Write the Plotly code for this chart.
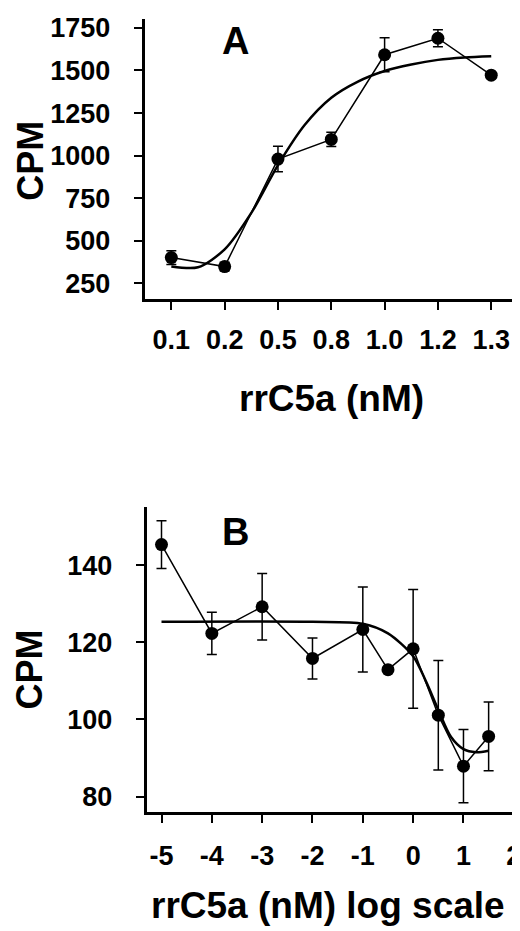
import plotly.graph_objects as go

# panel A - CPM vs rrC5a concentration
conc_labels = ["0.1", "0.2", "0.5", "0.8", "1.0", "1.2", "1.3"]
conc_pos = [0, 1, 2, 3, 4, 5, 6]
cpm_a = [402, 349, 980, 1095, 1592, 1689, 1472]
err_a = [40, 25, 75, 42, 100, 50, 15]
# fitted curve
fit_a_x = [0, 0.5, 1, 1.5, 2, 2.5, 3, 3.5, 4, 4.5, 5, 5.5, 6]
fit_a_y = [350, 345, 450, 664, 945, 1180, 1340, 1435, 1497, 1535, 1562, 1576, 1583]
ticks_a = [250, 500, 750, 1000, 1250, 1500, 1750]

# panel B - CPM vs log concentration
logc_b = [-5, -4, -3, -2, -1, -0.5, 0, 0.5, 1, 1.5]
cpm_b = [145.3, 122.3, 129.2, 115.8, 123.3, 112.9, 118.3, 101.1, 87.9, 95.6]
err_b = [6.2, 5.5, 8.6, 5.3, 11.0, 0, 15.4, 14.2, 9.5, 8.9]
fit_b_x = [-5, -2, -1, -0.5, 0, 0.25, 0.5, 0.75, 1, 1.25, 1.5]
fit_b_y = [125.3, 125.3, 124.8, 122.3, 116.4, 110.0, 102.5, 95.5, 92.3, 91.5, 91.9]
ticks_bx = [-5, -4, -3, -2, -1, 0, 1, 2]
ticks_bx_text = ["-5", "-4", "-3", "-2", "-1", "0", "1", "2"]
ticks_by = [80, 100, 120, 140]

W, H = 520, 931
FONT = "Liberation Sans"

fig = go.Figure()

fig.add_trace(go.Scatter(x=fit_a_x, y=fit_a_y, mode="lines",
                         line=dict(color="black", width=2.5, shape="spline", smoothing=0.8),
                         xaxis="x", yaxis="y", showlegend=False))
fig.add_trace(go.Scatter(x=conc_pos, y=cpm_a, mode="lines+markers",
                         line=dict(color="black", width=1.5),
                         marker=dict(color="black", size=13),
                         error_y=dict(type="data", array=err_a, color="black", thickness=1.5, width=5),
                         xaxis="x", yaxis="y", showlegend=False))

fig.add_trace(go.Scatter(x=fit_b_x, y=fit_b_y, mode="lines",
                         line=dict(color="black", width=2.5, shape="spline", smoothing=0.8),
                         xaxis="x2", yaxis="y2", showlegend=False))
fig.add_trace(go.Scatter(x=logc_b, y=cpm_b, mode="lines+markers",
                         line=dict(color="black", width=1.5),
                         marker=dict(color="black", size=13),
                         error_y=dict(type="data", array=err_b, color="black", thickness=1.5, width=5),
                         xaxis="x2", yaxis="y2", showlegend=False))


def axis(**kw):
    d = dict(showline=True, linewidth=3, linecolor="black", ticks="outside",
             ticklen=8, tickwidth=2, tickcolor="black", showgrid=False,
             zeroline=False, ticklabeloverflow="allow",
             tickfont=dict(family=FONT, size=27, color="black", weight=700))
    d.update(kw)
    return d


fig.update_layout(
    width=W, height=H,
    margin=dict(l=0, r=0, t=0, b=0),
    paper_bgcolor="white", plot_bgcolor="white",
    xaxis=axis(domain=[138 / W, 517 / W], range=[-0.5, 6.54],
               tickvals=conc_pos, ticktext=conc_labels, anchor="y", ticklabelstandoff=6),
    yaxis=axis(domain=[1 - 287 / H, 1 - 5 / H], range=[158, 1802],
               tickvals=ticks_a, anchor="x", ticklabelstandoff=18),
    xaxis2=axis(domain=[140 / W, 513 / W], range=[-5.295, 2.045],
                tickvals=ticks_bx, ticktext=ticks_bx_text, anchor="y2", ticklabelstandoff=10),
    yaxis2=axis(domain=[1 - 803 / H, 1 - 496 / H], range=[76.06, 155.1],
                tickvals=ticks_by, anchor="x2", ticklabelstandoff=18),
)

titlefont = dict(family=FONT, size=36, color="black", weight="bold")


def note(text, x, y, font, angle=0):
    fig.add_annotation(text=text, x=x / W, y=1 - y / H, xref="paper", yref="paper",
                       showarrow=False, font=font, textangle=angle,
                       xanchor="center", yanchor="middle")


letter = dict(family=FONT, size=38, color="black", weight="bold")
note("A", 230, 27, letter)
note("B", 230, 521, letter)
note("CPM", 22, 148, titlefont, -90)
note("CPM", 22, 660, titlefont, -90)
note("rrC5a (nM)", 327, 387, dict(titlefont, size=37))
note("rrC5a (nM) log scale", 323, 897, dict(titlefont, size=37))

fig.write_html("out.html")
